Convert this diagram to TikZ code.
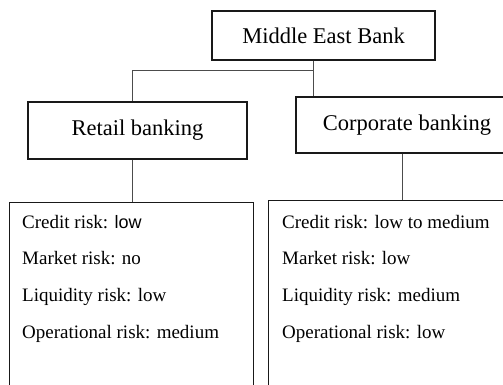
\documentclass[tikz,border=0pt]{standalone}
\usepackage{fontspec}
\setmainfont{Liberation Serif}
\newfontfamily\arialfont{Liberation Sans}
\begin{document}
\begin{tikzpicture}[x=1pt,y=-1pt,
  box/.style={draw=black!90, line width=1.4pt, rectangle, inner sep=0pt,
    font=\fontsize{22.5}{26}\selectfont},
  riskbox/.style={draw=black!90, line width=1.4pt, rectangle, inner sep=0pt},
  conn/.style={draw=black!70, line width=0.9pt},
  risk/.style={anchor=base west, inner sep=0pt, font=\fontsize{19}{22}\selectfont}]
  \useasboundingbox (0,0) rectangle (503,384);
  \clip (0,0) rectangle (503,384);

  % organisation boxes
  \node[box, minimum width=223pt, minimum height=49pt] (bank) at (323.5,35.5) {Middle East Bank};
  \node[box, minimum width=219pt, minimum height=57pt] (retail) at (137.5,130.5) {Retail banking};
  \node[box, minimum width=222pt, minimum height=56pt] (corp) at (407,125) {Corporate banking};

  % risk profile boxes (open at the bottom edge)
  \node[riskbox, minimum width=244pt, minimum height=220pt, anchor=north west] (retailrisk) at (9,202) {};
  \node[riskbox, minimum width=270pt, minimum height=220pt, anchor=north west] (corprisk) at (268,200) {};

  % connector junctions
  \coordinate (split) at (313,70);
  \coordinate (retailjoin) at (132,70);
  \coordinate (corpjoin) at (402,175);

  \draw[conn] (split |- bank.south) -- (split) -- (retailjoin) -- (retailjoin |- retail.north);
  \draw[conn] (split) -- (split |- corp.north);
  \draw[conn] (retailjoin |- retail.south) -- (retailjoin |- retailrisk.north);
  \draw[conn] (corpjoin |- corp.south) -- (corpjoin |- corprisk.north);

  % retail banking risks
  \node[risk] (r1) at (22,228) {Credit risk: {\arialfont\fontsize{18}{22}\selectfont low}};
  \node[risk] (r2) at (22,264) {Market risk: no};
  \node[risk] (r3) at (22,301) {Liquidity risk: low};
  \node[risk] (r4) at (22,338) {Operational risk: medium};

  % corporate banking risks
  \node[risk] (c1) at (282,228) {Credit risk: low to medium};
  \node[risk] (c2) at (282,264) {Market risk: low};
  \node[risk] (c3) at (282,301) {Liquidity risk: medium};
  \node[risk] (c4) at (282,338) {Operational risk: low};
\end{tikzpicture}
\end{document}
